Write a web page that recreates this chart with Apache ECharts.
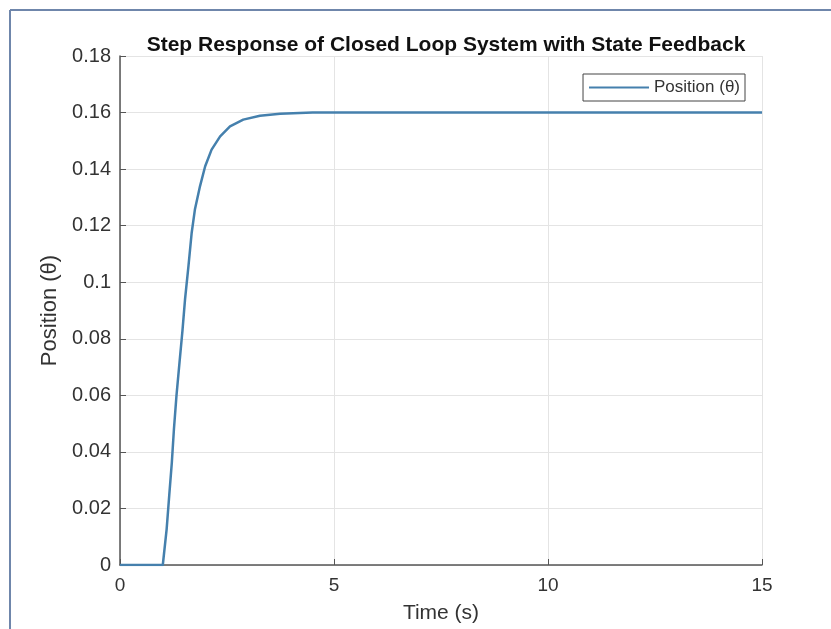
<!DOCTYPE html>
<html>
<head>
<meta charset="utf-8">
<script src="https://cdn.jsdelivr.net/npm/echarts@6/dist/echarts.min.js"></script>
<style>html,body{margin:0;padding:0;background:#fff;}#c{width:831px;height:629px;}</style>
</head>
<body>
<div id="c"></div>
<script>
const titleText = 'Step Response of Closed Loop System with State Feedback';
const seriesName = 'Position (θ)';
const xAxisName = 'Time (s)';
const yAxisName = 'Position (θ)';
const timeValues = [0, 0.5, 1.0, 1.09, 1.15, 1.21, 1.26, 1.32, 1.39, 1.46, 1.52, 1.60, 1.675, 1.75, 1.87, 1.99, 2.14, 2.34, 2.57, 2.88, 3.27, 3.74, 4.5, 6, 8, 10, 12, 15];
const positionValues = [0, 0, 0, 0.0127, 0.0245, 0.036, 0.048, 0.060, 0.0716, 0.083, 0.094, 0.1058, 0.1175, 0.1257, 0.134, 0.141, 0.1469, 0.1516, 0.1551, 0.1575, 0.1589, 0.1596, 0.16, 0.16, 0.16, 0.16, 0.16, 0.16];

const chart = echarts.init(document.getElementById('c'), null, {renderer: 'canvas'});
const font = 'Liberation Sans, Arial, sans-serif';
chart.setOption({
  animation: false,
  backgroundColor: '#ffffff',
  title: {
    text: titleText, left: 441, top: 30, textAlign: 'center',
    textStyle: {fontFamily: font, fontSize: 21, fontWeight: 'bold', color: '#111'}
  },
  legend: {
    data: [seriesName], right: 86, top: 74,
    backgroundColor: '#fff', borderColor: '#444', borderWidth: 1, borderRadius: 0,
    padding: [5, 5, 5, 6], itemWidth: 60, itemHeight: 10, itemGap: 4,
    textStyle: {fontFamily: font, fontSize: 17, color: '#333', padding: [0, 0, 0, 0]},
    icon: 'path://M0,4 L60,4 L60,6 L0,6 Z'
  },
  grid: {left: 120, right: 69, top: 56, bottom: 63, containLabel: false},
  xAxis: {
    type: 'value', min: 0, max: 15, interval: 5,
    name: xAxisName, nameLocation: 'middle', nameGap: 38,
    nameTextStyle: {fontFamily: font, fontSize: 21, color: '#333'},
    axisLine: {show: true, lineStyle: {color: '#555', width: 1.5}},
    axisTick: {show: true, inside: true, length: 6, lineStyle: {color: '#555'}},
    axisLabel: {fontFamily: font, fontSize: 19, color: '#333', margin: 11},
    splitLine: {show: true, lineStyle: {color: '#e4e4e4', width: 1}}
  },
  yAxis: {
    type: 'value', min: 0, max: 0.18, interval: 0.02,
    name: yAxisName, nameLocation: 'middle', nameGap: 57, nameRotate: 90,
    nameTextStyle: {fontFamily: font, fontSize: 22, color: '#333'},
    axisLine: {show: true, lineStyle: {color: '#555', width: 1.5}},
    axisTick: {show: true, inside: true, length: 6, lineStyle: {color: '#555'}},
    axisLabel: {fontFamily: font, fontSize: 20, color: '#333', margin: 9,
      formatter: v => String(+v.toFixed(2))},
    splitLine: {show: true, lineStyle: {color: '#e4e4e4', width: 1}}
  },
  series: [{
    name: seriesName, type: 'line', showSymbol: false, smooth: false,
    lineStyle: {color: '#4580ad', width: 2.5, join: 'round'}, itemStyle: {color: '#4580ad'},
    data: timeValues.map((t, i) => [t, positionValues[i]])
  }],
  graphic: [
    {type: 'line', shape: {x1: 10, y1: 10, x2: 831, y2: 10}, style: {stroke: '#6f86ab', lineWidth: 2}},
    {type: 'line', shape: {x1: 10, y1: 10, x2: 10, y2: 629}, style: {stroke: '#6f86ab', lineWidth: 2}}
  ]
});
</script>
</body>
</html>
